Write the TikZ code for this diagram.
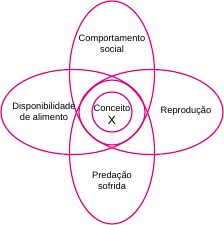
\documentclass[tikz,border=0pt]{standalone}
\usepackage{fontspec}
\setmainfont{Liberation Sans}
\definecolor{rosa}{RGB}{230,0,126}
\tikzset{
  anel/.style={draw=rosa,line width=1.2pt},
  rotulo/.style={align=center,font=\fontsize{9.3}{11}\selectfont,inner sep=1pt}
}

\begin{document}
\begin{tikzpicture}[x=1pt,y=-1pt]
\useasboundingbox (0,0) rectangle (224,225);
\draw[anel] (112,73) ellipse [x radius=42.5pt,y radius=72pt];
\draw[anel] (112,152) ellipse [x radius=42.5pt,y radius=72pt];
\draw[anel] (73,112) ellipse [x radius=72pt,y radius=42.5pt];
\draw[anel] (151,112) ellipse [x radius=72pt,y radius=42.5pt];
\draw[anel] (112,112) circle [radius=20pt];
\node[rotulo] (CS) at (112,44) {Comportamento\\social};
\node[rotulo] (DA) at (44,112) {Disponibilidade\\de alimento};
\node[rotulo] (R) at (186,111) {Reprodução};
\node[rotulo] (PS) at (112,181) {Predação\\sofrida};
\node[rotulo] (CX) at (112,115) {Conceito\\[2pt]{\fontsize{12}{12}\selectfont X}};
\end{tikzpicture}
\end{document}
